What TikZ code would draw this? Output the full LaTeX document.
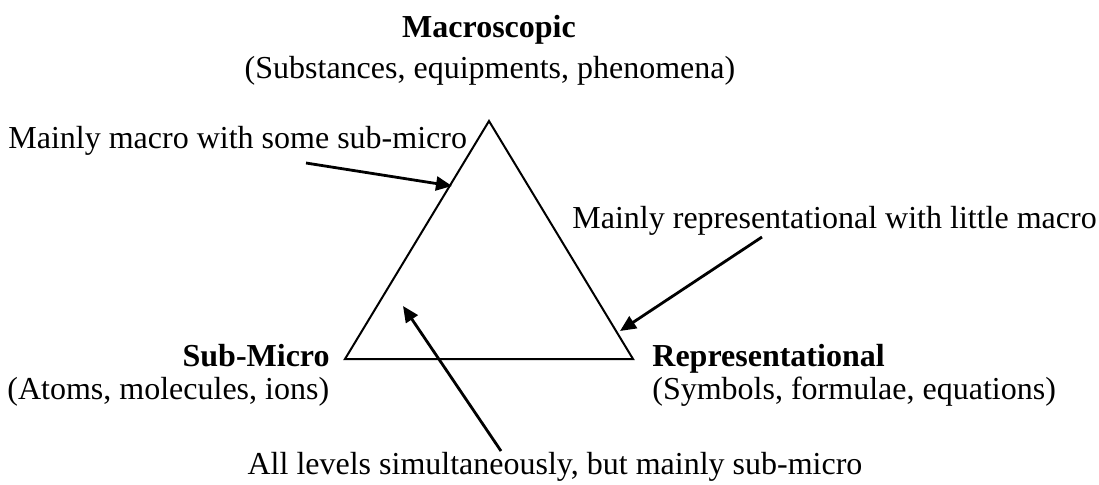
\documentclass[tikz,border=0pt]{standalone}
\usepackage{fontspec}
\setmainfont{Liberation Serif}
\usetikzlibrary{arrows.meta}

\begin{document}
\begin{tikzpicture}[x=0.5pt, y=-0.5pt, >={Triangle[length=8pt,width=7pt]},
    every node/.style={inner sep=0pt},
    plain/.style={font=\fontsize{16}{19}\selectfont},
    heading/.style={font=\fontsize{16}{19}\selectfont\bfseries},
    pointer/.style={line width=1.4pt, ->}]
    \useasboundingbox (0,0) rectangle (1099,484);

    % --- 1. corners of the triangle ---
    \coordinate (Top)   at (489,121);  % macro
    \coordinate (Left)  at (345,359);  % sub-micro
    \coordinate (Right) at (633,359);  % representational

    % where the arrows start and end
    \coordinate (macro_from)  at (306,163);
    \coordinate (macro_to)    at (452,186);
    \coordinate (repr_from)   at (762,237);
    \coordinate (repr_to)     at (620,331);
    \coordinate (levels_from) at (501,451);
    \coordinate (levels_to)   at (403,306);

    % --- 2. the triangle ---
    \draw[line width=1pt, line join=miter] (Top) -- (Left) -- (Right) -- cycle;

    % --- 3. labels at the corners ---
    \node[heading, anchor=base] (macro) at (489,37) {Macroscopic};
    \node[plain, anchor=base] (macro_sub) at (490,78) {(Substances, equipments, phenomena)};

    \node[heading, anchor=base east] (micro) at (330,366) {Sub-Micro};
    \node[plain, anchor=base west] (micro_sub) at (7,399) {(Atoms, molecules, ions)};

    \node[heading, anchor=base west] (repr) at (652,366) {Representational};
    \node[plain, anchor=base west] (repr_sub) at (652,399) {(Symbols, formulae, equations)};

    % --- 4. notes and arrows ---
    \node[plain, anchor=base west] (note_macro) at (8,148) {Mainly macro with some sub-micro};
    \node[plain, anchor=base west] (note_repr) at (572,228) {Mainly representational with little macro};
    \node[plain, anchor=base] (note_levels) at (555,474) {All levels simultaneously, but mainly sub-micro};

    \draw[pointer] (macro_from) -- (macro_to);
    \draw[pointer] (repr_from) -- (repr_to);
    \draw[pointer] (levels_from) -- (levels_to);

\end{tikzpicture}
\end{document}
